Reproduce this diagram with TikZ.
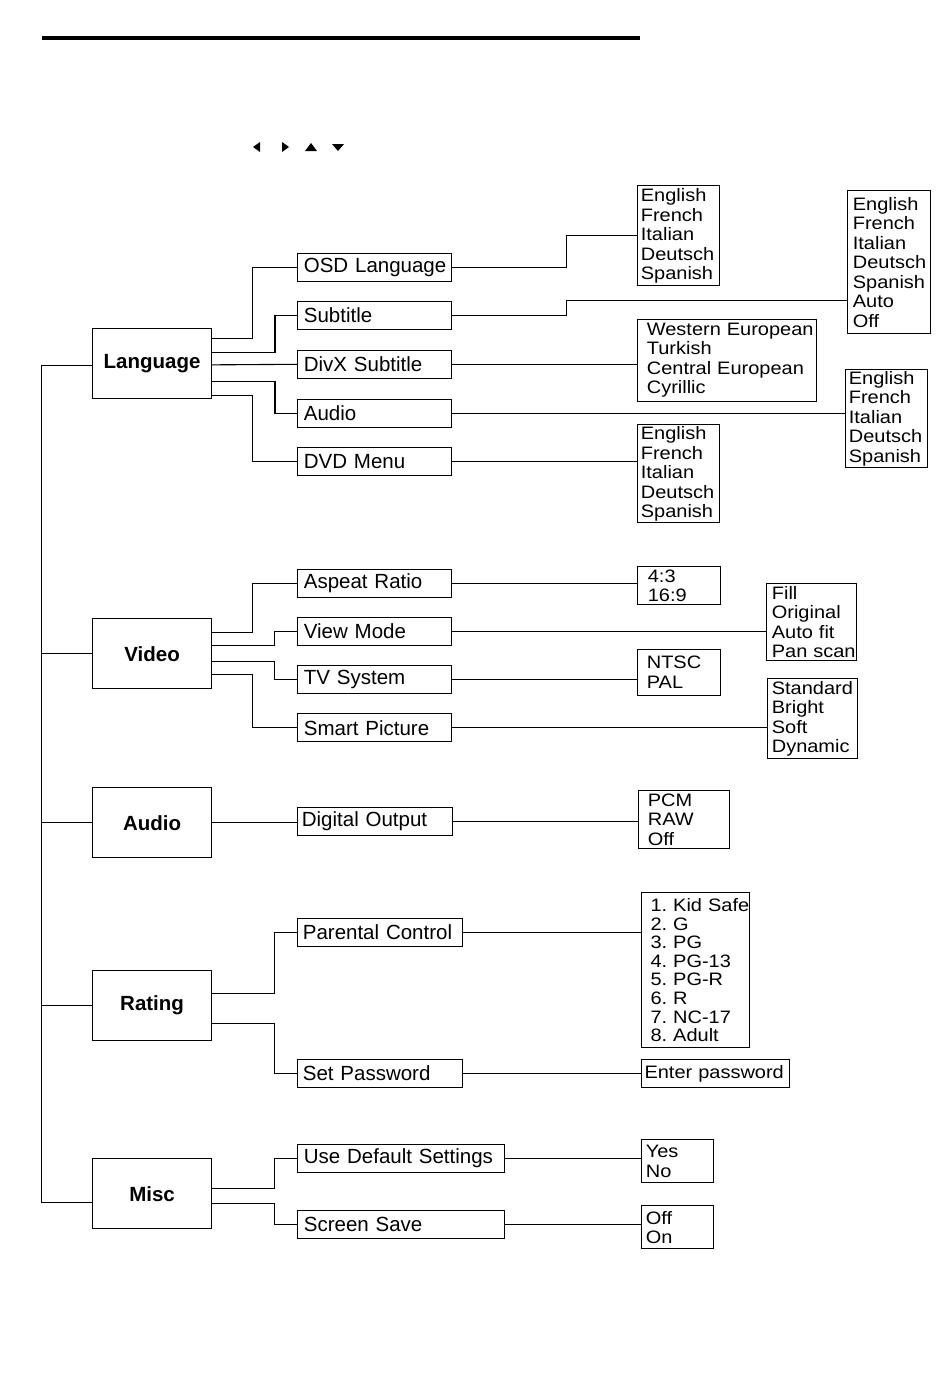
\documentclass[tikz,border=0pt]{standalone}
\usepackage{fontspec}
\setmainfont{Liberation Sans}
\newfontfamily\optfam{Liberation Sans}[FakeStretch=1.11]
\usetikzlibrary{positioning}
\hyphenpenalty=10000
\exhyphenpenalty=10000
\frenchspacing
\tikzset{menubox/.style={draw, anchor=north west, minimum width=118.5pt,
    minimum height=70pt, inner sep=0pt, font=\fontsize{20.5}{24}\selectfont\bfseries}}
\tikzset{menuitem/.style 2 args={draw, anchor=west, minimum height=28pt, inner ysep=0pt,
    inner xsep=#1, text width=#2, align=left, font=\fontsize{20.5}{24}\selectfont}}
\tikzset{optbox/.style 2 args={draw, anchor=north west, inner ysep=0pt,
    inner xsep=#1, text width=#2, align=left, font=\optfam\fontsize{18}{19.5}\selectfont}}
\tikzset{wire/.style={draw, line width=1.1pt}}

\begin{document}
\begin{tikzpicture}[x=1pt, y=-1pt, line width=1.1pt]
                \useasboundingbox (0,0) rectangle (950,1381);
                \draw[line width=4pt] (42,38) -- (640,38);

                % Cursor keys
                \fill (253,147) -- (260,142) -- (260,152) -- cycle;
                \fill (289,147) -- (282,142) -- (282,152) -- cycle;
                \fill (311,143) -- (305,151) -- (317,151) -- cycle;
                \fill (338,151) -- (332,144) -- (344,144) -- cycle;

                % Main menus
                \node[menubox] (lang) at (92.3,328) {Language};
                \node[menubox] (video) at (92.3,618.3) {Video};
                \node[menubox] (audio) at (92.3,787.3) {Audio};
                \node[menubox] (rating) at (92.3,970) {Rating};
                \node[menubox] (misc) at (92.3,1158.3) {Misc};

                % Items
                \node[menuitem={6pt}{142pt}] (osd) at (297.3,267.3) {OSD~Language};
                \node[menuitem={6pt}{142pt}] (subt) at (297.3,315.3) {Subtitle};
                \node[menuitem={6pt}{142pt}] (divx) at (297.3,364.3) {DivX~Subtitle};
                \node[menuitem={6pt}{142pt}] (aud) at (297.3,413.3) {Audio};
                \node[menuitem={6pt}{142pt}] (dvd) at (297.3,461.3) {DVD~Menu};

                \node[menuitem={6pt}{142pt}] (aspect) at (297.3,583.3) {Aspeat~Ratio};
                \node[menuitem={6pt}{142pt}] (view) at (297.3,631.3) {View~Mode};
                \node[menuitem={6pt}{142pt}] (tvsys) at (297.3,679.8) {TV~System};
                \node[menuitem={6pt}{142pt}] (smart) at (297.3,727.8) {Smart~Picture};

                \node[menuitem={4pt}{146.4pt}] (digout) at (297.3,821.5) {Digital~Output};

                \node[menuitem={5pt}{154.4pt}] (parent) at (297.3,932.3) {Parental~Control};
                \node[menuitem={5pt}{154.4pt}] (passwd) at (297.3,1073.3) {Set~Password};

                \node[menuitem={6pt}{194.4pt}] (usedef) at (297.3,1158.3) {Use~Default~Settings};
                \node[menuitem={6pt}{194.4pt}] (saver) at (297.3,1224.3) {Screen~Save};

                % Options
                \node[optbox={3pt}{76pt}, minimum height=100pt] (osdopt) at (637.3,185.3)
                    {English\\French\\Italian\\Deutsch\\Spanish};
                \node[optbox={5pt}{73pt}, minimum height=143pt] (subopt) at (847.3,190.3)
                    {English\\French\\Italian\\Deutsch\\Spanish\\Auto\\Off};
                \node[optbox={9pt}{161pt}, minimum height=82.3pt] (divxopt) at (637.3,318.7)
                    {Western~European\\Turkish\\Central~European\\Cyrillic};
                \node[optbox={3pt}{76pt}, minimum height=98.3pt] (audopt) at (845.3,368.7)
                    {English\\French\\Italian\\Deutsch\\Spanish};
                \node[optbox={3pt}{76pt}, minimum height=98pt] (dvdopt) at (637.3,424.3)
                    {English\\French\\Italian\\Deutsch\\Spanish};

                \node[optbox={10pt}{63pt}, minimum height=37.7pt] (ratioopt) at (637.3,566.3)
                    {4:3\\16:9};
                \node[optbox={5pt}{80pt}, minimum height=77.3pt] (viewopt) at (766.3,582.7)
                    {Fill\\Original\\Auto~fit\\Pan~scan};
                \node[optbox={9pt}{65pt}, minimum height=46.3pt] (tvopt) at (637.3,648.7)
                    {NTSC\\PAL};
                \node[optbox={4pt}{82pt}, minimum height=80pt] (smartopt) at (767.3,678.3)
                    {Standard\\Bright\\Soft\\Dynamic};

                \node[optbox={9pt}{73pt}, minimum height=58.6pt] (digopt) at (638.3,789.7)
                    {PCM\\RAW\\Off};

                \node[optbox={9pt}{90.3pt}, minimum height=154.7pt,
                    font=\optfam\fontsize{18}{18.6}\selectfont] (parentopt) at (641,892.3)
                    {1.~Kid~Safe\\2. G\\3. PG\\4. PG-13\\5. PG-R\\6. R\\7. NC-17\\8. Adult};
                \node[optbox={3pt}{142.3pt}, minimum height=27.7pt] (passopt) at (641,1059.3)
                    {Enter~password};

                \node[optbox={4pt}{64pt}, minimum height=43.3pt] (defopt) at (641.3,1139)
                    {Yes\\No};
                \node[optbox={4pt}{64pt}, minimum height=43pt] (saveopt) at (641.3,1205.3)
                    {Off\\On};

                % Spine
                \draw[wire] ([yshift=-2pt]lang.west) -- ++(-51pt,0) coordinate (spine)
                    |- ([yshift=-8.7pt]misc.west);
                \foreach \m in {video,audio,rating}
                    \draw[wire] (\m.west) -- (\m.west -| spine);

                % Language
                \draw[wire] ([yshift=25.3pt]lang.east) -| ([xshift=-45pt]osd.west) -- (osd.west);
                \draw[wire] ([yshift=11pt]lang.east) -| ([xshift=-22.3pt]subt.west) -- (subt.west);
                \draw[wire] ([yshift=-1.3pt]lang.east) -- (divx.west);
                \draw[wire] ([yshift=-18pt]lang.east) -| ([xshift=-22.3pt]aud.west) -- (aud.west);
                \draw[wire] ([yshift=-32pt]lang.east) -| ([xshift=-45pt]dvd.west) -- (dvd.west);

                % Video
                \draw[wire] ([yshift=21.3pt]video.east) -| ([xshift=-45pt]aspect.west) -- (aspect.west);
                \draw[wire] ([yshift=8pt]video.east) -| ([xshift=-23pt]view.west) -- (view.west);
                \draw[wire] ([yshift=-7.7pt]video.east) -| ([xshift=-23pt]tvsys.west) -- (tvsys.west);
                \draw[wire] ([yshift=-21pt]video.east) -| ([xshift=-45pt]smart.west) -- (smart.west);

                % Audio
                \draw[wire] (audio.east) -- (audio.east -| digout.west);

                % Rating
                \draw[wire] ([yshift=12pt]rating.east) -| ([xshift=-22.6pt]parent.west) -- (parent.west);
                \draw[wire] ([yshift=-18pt]rating.east) -| ([xshift=-22.6pt]passwd.west) -- (passwd.west);

                % Misc
                \draw[wire] ([yshift=5pt]misc.east) -| ([xshift=-22.6pt]usedef.west) -- (usedef.west);
                \draw[wire] ([yshift=-10pt]misc.east) -| ([xshift=-22.6pt]saver.west) -- (saver.west);

                % Items to options
                \draw[wire] (osd.east) -| ([xshift=-70.6pt]osdopt.west) -- (osdopt.west);
                \coordinate (subin) at ([yshift=-38.3pt]subopt.west);
                \draw[wire] (subt.east) -| ([xshift=-280.6pt]subin) -- (subin);
                \foreach \a/\b in {divx/divxopt, aud/audopt, dvd/dvdopt, aspect/ratioopt,
                    view/viewopt, tvsys/tvopt, smart/smartopt, digout/digopt,
                    parent/parentopt, passwd/passopt, usedef/defopt, saver/saveopt}
                    \draw[wire] (\a.east) -- (\a.east -| \b.west);
\end{tikzpicture}
\end{document}
